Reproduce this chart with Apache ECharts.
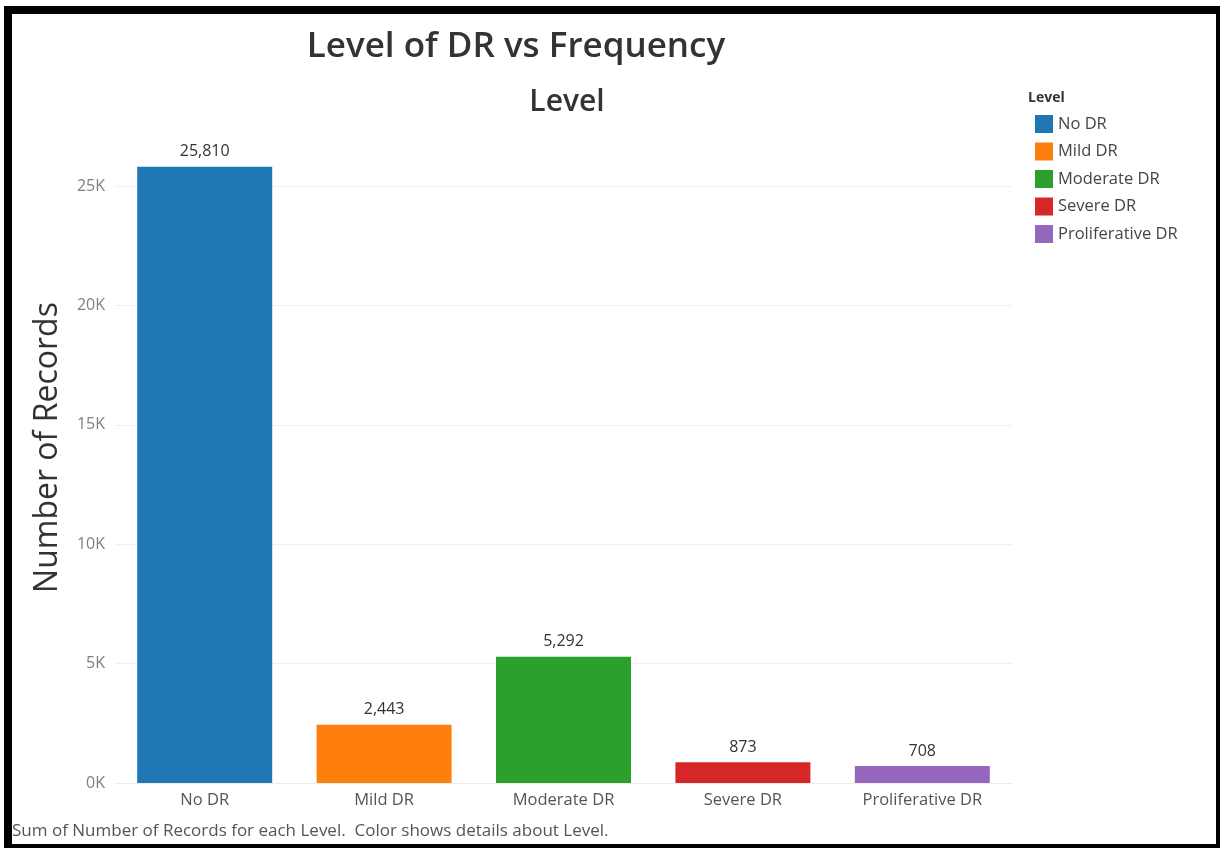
<!DOCTYPE html>
<html>
<head>
<meta charset="utf-8">
<script src="https://cdn.jsdelivr.net/npm/echarts@6/dist/echarts.min.js"></script>
<style>
  html, body { margin: 0; padding: 0; background: #fff; }
  #chart { width: 1220px; height: 848px; }
</style>
</head>
<body>
<div id="chart"></div>
<script>
// Diabetic retinopathy levels and their record counts
const levels = ['No DR', 'Mild DR', 'Moderate DR', 'Severe DR', 'Proliferative DR'];
const records = [25810, 2443, 5292, 873, 708];
const levelColors = ['#1f77b4', '#ff7f0e', '#2ca02c', '#d62728', '#9467bd'];
const yTicks = [0, 5000, 10000, 15000, 20000, 25000];

const FONT = '"Open Sans", "DejaVu Sans", sans-serif';

// One series per level so each gets its own legend entry; stacked so bars stay centred.
const series = levels.map((name, i) => ({
  name: name,
  type: 'bar',
  stack: 'level',
  z: 3,
  barWidth: 135,
  itemStyle: { color: levelColors[i] },
  data: levels.map((_, j) => (j === i ? records[i] : '-')),
  label: {
    show: true,
    position: 'top',
    distance: 7,
    color: '#333',
    fontFamily: FONT,
    fontSize: 16,
    formatter: p => Number(p.value).toLocaleString('en-US')
  }
}));

const chart = echarts.init(document.getElementById('chart'));
chart.setOption({
  animation: false,
  backgroundColor: '#fff',
  title: [
    {
      text: 'Level of DR vs Frequency',
      left: 511, top: 25, textAlign: 'center',
      textStyle: { fontFamily: FONT, fontSize: 35, fontWeight: 600, color: '#333' }
    },
    {
      text: 'Level',
      left: 562, top: 82, textAlign: 'center',
      textStyle: { fontFamily: FONT, fontSize: 30, fontWeight: 600, color: '#333' }
    }
  ],
  legend: {
    orient: 'vertical',
    left: 1030, top: 110,
    icon: 'rect',
    itemWidth: 18, itemHeight: 18, itemGap: 9.5,
    data: levels,
    textStyle: { fontFamily: FONT, fontSize: 16.5, color: '#444' },
    selectedMode: false
  },
  grid: { left: 115, right: 208, top: 112, bottom: 65 },
  xAxis: {
    type: 'category',
    data: levels,
    axisLine: { show: true, lineStyle: { color: '#ececec' } },
    axisTick: { show: false },
    axisLabel: { fontFamily: FONT, fontSize: 16.5, color: '#555', margin: 9 }
  },
  yAxis: {
    type: 'value',
    min: 0, max: 28100, interval: 5000,
    name: 'Number of Records',
    nameLocation: 'middle',
    nameGap: 51,
    nameTextStyle: { fontFamily: FONT, fontSize: 32, color: '#333' },
    axisLine: { show: false },
    axisTick: { show: false },
    splitLine: { show: false },
    axisLabel: {
      showMaxLabel: false,
      fontFamily: FONT, fontSize: 16, color: '#808080', margin: 10,
      formatter: v => (v / 1000) + 'K'
    }
  },
  series: series.concat([{
    // horizontal gridlines at the labelled ticks, kept behind the bars
    type: 'line', data: [], silent: true, z: 1,
    markLine: {
      z: 1,
      symbol: 'none', silent: true, label: { show: false },
      lineStyle: { color: '#f0f0f0', type: 'solid', width: 1 },
      data: yTicks.slice(1).map(v => ({ yAxis: v }))
    }
  }]),
  graphic: [
    { type: 'text', left: 1028, top: 91,
      style: { text: 'Level', font: 'bold 14px ' + FONT, fill: '#333' } },
    { type: 'text', left: 12, top: 823,
      style: { text: 'Sum of Number of Records for each Level.  Color shows details about Level.',
               font: '17px ' + FONT, fill: '#555' } },
    // outer black frame
    { type: 'rect', shape: { x: 4, y: 6, width: 8, height: 842 }, style: { fill: '#000' } },
    { type: 'rect', shape: { x: 4, y: 6, width: 1216, height: 8 }, style: { fill: '#000' } },
    { type: 'rect', shape: { x: 1216, y: 6, width: 4, height: 842 }, style: { fill: '#000' } },
    { type: 'rect', shape: { x: 4, y: 844, width: 1216, height: 4 }, style: { fill: '#000' } }
  ]
});
</script>
</body>
</html>
